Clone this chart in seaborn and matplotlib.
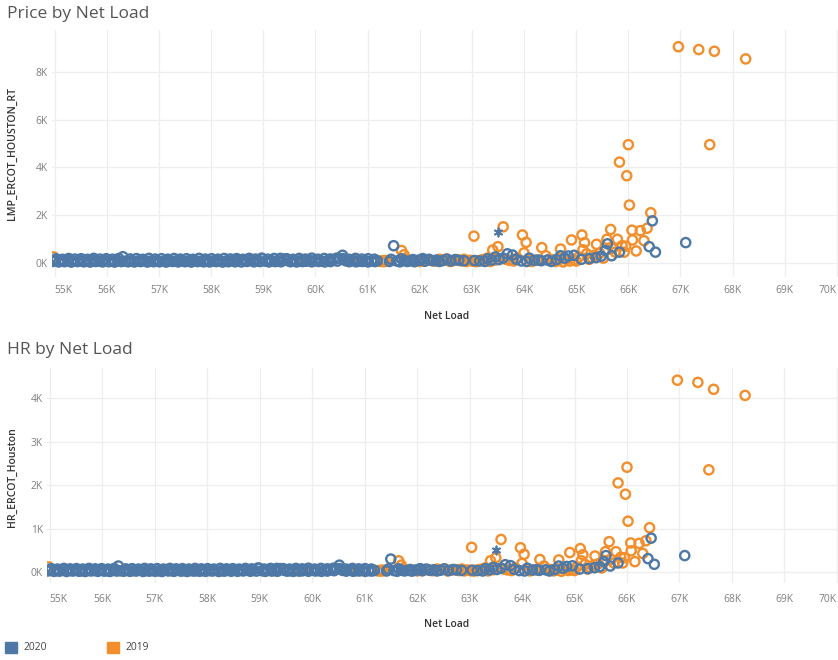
import matplotlib
matplotlib.use("Agg")
import matplotlib.pyplot as plt
import seaborn as sns
from matplotlib.ticker import FuncFormatter
from matplotlib.patches import Rectangle

# ---------------- data ----------------
year_labels = ["2020", "2019"]
x_ticks = [55000, 56000, 57000, 58000, 59000, 60000, 61000, 62000,
           63000, 64000, 65000, 66000, 67000, 68000, 69000, 70000]
x_tick_labels = ["55K", "56K", "57K", "58K", "59K", "60K", "61K", "62K",
                 "63K", "64K", "65K", "66K", "67K", "68K", "69K", "70K"]
price_ticks = [0, 2000, 4000, 6000, 8000]
hr_ticks = [0, 1000, 2000, 3000, 4000]

load_2020 = [54960, 55010, 55080, 55140, 55190, 55260, 55320, 55370, 55440, 55500,
             55560, 55610, 55680, 55740, 55790, 55860, 55920, 55970, 56040, 56100,
             56150, 56220, 56280, 56310, 56350, 56410, 56480, 56530, 56600, 56650,
             56720, 56780, 56830, 56900, 56960, 57010, 57080, 57140, 57190, 57260,
             57320, 57370, 57440, 57500, 57550, 57620, 57680, 57740, 57790, 57860,
             57920, 57970, 58040, 58100, 58150, 58220, 58280, 58330, 58400, 58460,
             58510, 58580, 58640, 58690, 58760, 58820, 58870, 58940, 58990, 59050,
             59110, 59160, 59230, 59290, 59340, 59400, 59460, 59520, 59570, 59640,
             59700, 59750, 59820, 59880, 59930, 59990, 60060, 60110, 60180, 60240,
             60290, 60360, 60420, 60470, 60520, 60580, 60650, 60720, 60780, 60830,
             60900, 60960, 61010, 61080, 61140, 61190, 61420, 61500, 61560, 61620,
             61700, 61760, 61830, 61900, 61970, 62020, 62100, 62250, 62380, 62450,
             62600, 62750, 63150, 63250, 63380, 63520, 63680, 63780, 63850, 63950,
             64050, 64200, 64330, 64450, 64520, 64700, 64850, 64960, 65480, 65560,
             65600, 65680, 65830, 66400, 66460, 66520, 67100,
             55030, 55150, 55270, 55390, 55510, 55630, 55750, 55870, 55990, 56110,
             56230, 56450, 56570, 56690, 56810, 56930, 57050, 57170, 57290, 57410,
             57530, 57650, 57770, 57890, 58010, 58130, 58250, 58370, 58490, 58610,
             58730, 58850, 58970, 59090, 59210, 59330, 59450, 59570, 59690, 59810,
             59930, 60050, 60170, 60290, 60410, 60530, 60650, 60770, 60890, 61010,
             61130, 61450, 61650, 61870, 62060, 62180, 62320, 62520, 62680, 62850,
             63050, 63300, 63450, 63600, 64100, 64280, 64620, 64780, 65100, 65250,
             65380]
price_2020 = [60, 95, 40, 75, 50, 100, 35, 80, 55, 90,
              45, 70, 35, 95, 60, 80, 40, 100, 50, 75,
              35, 90, 55, 260, 70, 45, 95, 40, 80, 55,
              100, 35, 75, 50, 90, 45, 70, 35, 95, 60,
              80, 40, 100, 50, 75, 35, 90, 55, 70, 45,
              95, 40, 80, 55, 100, 35, 75, 50, 90, 45,
              110, 40, 95, 60, 120, 45, 85, 55, 170, 70,
              40, 95, 55, 80, 45, 160, 100, 50, 75, 40,
              90, 55, 70, 120, 45, 95, 60, 80, 40, 110,
              55, 140, 75, 180, 320, 90, 50, 110, 45, 80,
              60, 95, 40, 75, 55, 90, 60, 720, 80, 45,
              100, 60, 90, 50, 110, 130, 70, 90, 60, 100,
              80, 110, 80, 60, 120, 140, 380, 330, 150, 80,
              60, 110, 90, 120, 60, 300, 290, 320, 280, 520,
              800, 300, 450, 680, 1760, 450, 850,
              170, 150, 185, 160, 175, 150, 190, 160, 175, 155,
              185, 165, 180, 150, 190, 160, 175, 155, 185, 160,
              175, 150, 190, 160, 175, 155, 185, 165, 180, 150,
              190, 160, 200, 155, 185, 190, 175, 150, 190, 160,
              200, 155, 185, 165, 200, 180, 150, 190, 160, 175,
              155, 150, 170, 140, 180, 150, 120, 160, 140, 90,
              100, 170, 250, 200, 200, 120, 140, 200, 150, 180,
              220]
hr_2020 = [25, 40, 18, 32, 22, 44, 15, 35, 24, 40,
           20, 30, 15, 42, 26, 35, 18, 44, 22, 33,
           15, 40, 24, 140, 30, 20, 42, 18, 35, 24,
           44, 15, 33, 22, 40, 20, 30, 15, 42, 26,
           35, 18, 44, 22, 33, 15, 40, 24, 30, 20,
           42, 18, 35, 24, 44, 15, 33, 22, 40, 20,
           48, 18, 42, 26, 52, 20, 37, 24, 90, 30,
           18, 42, 24, 35, 20, 80, 44, 22, 33, 18,
           40, 24, 30, 55, 20, 42, 26, 35, 18, 48,
           24, 60, 33, 80, 160, 40, 22, 48, 20, 35,
           26, 42, 18, 33, 24, 40, 26, 300, 35, 20,
           44, 26, 40, 22, 48, 56, 30, 40, 26, 44,
           35, 48, 35, 26, 52, 60, 170, 150, 65, 35,
           26, 48, 40, 52, 26, 140, 130, 145, 125, 240,
           380, 140, 210, 310, 780, 180, 380,
           80, 70, 85, 75, 80, 70, 85, 75, 80, 70,
           85, 75, 80, 70, 85, 75, 80, 70, 85, 75,
           80, 70, 85, 75, 80, 70, 85, 75, 80, 70,
           85, 75, 95, 70, 85, 85, 80, 70, 85, 75,
           90, 70, 85, 75, 90, 80, 70, 85, 75, 80,
           70, 70, 75, 60, 80, 70, 55, 75, 60, 40,
           45, 80, 110, 90, 90, 55, 60, 90, 70, 80,
           100]

load_2019 = [54980, 57650, 57700, 57900, 57950, 59780, 59830, 60050, 60780, 60850,
             61250, 61280, 61310, 61340, 61360, 61650, 61700, 61750, 62080, 62150,
             62300, 62420, 62520, 62650, 62800, 62900, 62960, 63020, 63040, 63100,
             63200, 63300, 63400, 63500, 63600, 63650, 63720, 63870, 63970, 64000,
             64040, 64100, 64250, 64340, 64420, 64550, 64600, 64700, 64800, 64880,
             64910, 64950, 65050, 65110, 65130, 65160, 65200, 65300, 65390, 65450,
             65590, 65660, 65700, 65790, 65830, 65880, 65920, 65970, 66000, 66020,
             66070, 66080, 66230, 66300, 66360, 66430, 66960, 67350, 67560, 67650,
             68250,
             62000, 62220, 62380, 62580, 62720, 62850, 63080, 63150, 63250, 63350,
             63450, 63800, 64150, 64480, 64650, 64750, 65000, 65250, 65350, 65520,
             65750, 65950, 66150]
price_2019 = [250, 130, 90, 120, 80, 70, 110, 90, 120, 80,
              60, 90, 50, 100, 70, 520, 340, 150, 90, 130,
              70, 120, 160, 100, 80, 60, 110, 70, 1120, 90,
              130, 200, 540, 680, 1510, 150, 110, 200, 1170, 420,
              860, 150, 120, 640, 300, 120, 60, 580, 150, 80,
              960, 120, 250, 1170, 550, 850, 380, 220, 780, 400,
              990, 1400, 600, 990, 4220, 720, 450, 3650, 4950, 2420,
              1370, 960, 1350, 930, 1450, 2100, 9050, 8930, 4950, 8860,
              8540,
              60, 100, 150, 60, 130, 150, 50, 100, 150, 60,
              120, 80, 60, 150, 100, 40, 80, 150, 320, 200,
              450, 700, 500]
hr_2019 = [120, 60, 40, 55, 35, 30, 50, 40, 55, 35,
           28, 40, 24, 45, 32, 260, 160, 70, 40, 60,
           32, 55, 75, 45, 36, 28, 50, 32, 570, 40,
           60, 95, 260, 330, 750, 70, 50, 95, 560, 200,
           410, 70, 55, 290, 140, 55, 28, 280, 70, 36,
           450, 55, 120, 540, 260, 400, 180, 105, 370, 190,
           470, 700, 290, 470, 2050, 340, 210, 1790, 2410, 1170,
           670, 490, 660, 430, 720, 1020, 4410, 4360, 2350, 4200,
           4060,
           28, 45, 70, 28, 60, 70, 24, 45, 70, 28,
           55, 36, 28, 70, 45, 20, 36, 70, 150, 95,
           210, 330, 240]

star_load = [63510]
star_price = [1280]
star_hr = [500]

# ---------------- style ----------------
BLUE = "#4E79A7"
ORANGE = "#F28E2B"
sns.set_theme(style="white")
plt.rcParams["font.family"] = ["Open Sans", "DejaVu Sans"]

W, H = 838, 660
fig = plt.figure(figsize=(W / 100, H / 100), dpi=100)
fig.patch.set_facecolor("white")


def fx(px):
    return px / W


def fy(py):
    return 1 - py / H


ax1 = fig.add_axes([fx(52), fy(277), fx(W - 52), (277 - 30) / H])
ax2 = fig.add_axes([fx(47), fy(583), fx(W - 47), (583 - 368) / H])

kfmt = FuncFormatter(lambda v, p: f"{int(round(v / 1000))}K")


def draw(ax, y20, y19, ystar, ylim, yticks, ylabel, tick_pad):
    sns.scatterplot(x=load_2019, y=y19, ax=ax, color=ORANGE, facecolor="none",
                    edgecolor=ORANGE, s=44, linewidth=1.7, zorder=3)
    sns.scatterplot(x=load_2020, y=y20, ax=ax, color=BLUE, facecolor="none",
                    edgecolor=BLUE, s=44, linewidth=1.7, zorder=4)
    sns.scatterplot(x=star_load, y=ystar, ax=ax, color=BLUE, marker=(6, 2, 0),
                    edgecolor=BLUE, s=34, linewidth=1.3, zorder=5)
    ax.set_xlim(54950, 70020)
    ax.set_ylim(*ylim)
    ax.set_xticks(x_ticks)
    ax.set_xticklabels(x_tick_labels)
    labels = ax.get_xticklabels()
    labels[0].set_horizontalalignment("left")
    labels[-1].set_horizontalalignment("right")
    ax.set_yticks(yticks)
    ax.yaxis.set_major_formatter(kfmt)
    ax.tick_params(axis="both", length=0, labelsize=7.4, labelcolor="#7f7f7f")
    ax.tick_params(axis="x", pad=tick_pad)
    ax.tick_params(axis="y", pad=3)
    ax.grid(True, color="#eeeeee", linewidth=0.9)
    ax.set_axisbelow(True)
    for s in ax.spines.values():
        s.set_visible(False)
    ax.set_xlabel("Net Load", fontsize=7.4, color="#333333", fontweight="semibold")
    ax.set_ylabel(ylabel, fontsize=7.6, color="#333333", fontweight="semibold")


draw(ax1, price_2020, price_2019, star_price, (-590, 9750), price_ticks,
     "LMP_ERCOT_HOUSTON_RT", 6)
draw(ax2, hr_2020, hr_2019, star_hr, (-250, 4690), hr_ticks,
     "HR_ERCOT_Houston", 8)

ax1.xaxis.set_label_coords((447 - 52) / (W - 52), (277 - 311) / (277 - 30))
ax1.yaxis.set_label_coords((18 - 52) / (W - 52), (277 - 154) / (277 - 30))
ax2.xaxis.set_label_coords((447 - 47) / (W - 47), (583 - 619) / (583 - 368))
ax2.yaxis.set_label_coords((18 - 47) / (W - 47), (583 - 477) / (583 - 368))

fig.text(fx(7), fy(14), "Price by Net Load", fontsize=12.5, color="#555555",
         va="center", ha="left")
fig.text(fx(7), fy(350), "HR by Net Load", fontsize=12.5, color="#555555",
         va="center", ha="left")

# legend
for i, (lab, col) in enumerate(zip(year_labels, [BLUE, ORANGE])):
    x0 = 5 + i * 102
    fig.patches.append(Rectangle((fx(x0), fy(653)), fx(12), 11 / H,
                                 transform=fig.transFigure, color=col))
    fig.text(fx(x0 + 18), fy(648), lab, fontsize=7.4, color="#444444",
             va="center", ha="left")

fig.savefig("out.png", dpi=100, facecolor="white")
